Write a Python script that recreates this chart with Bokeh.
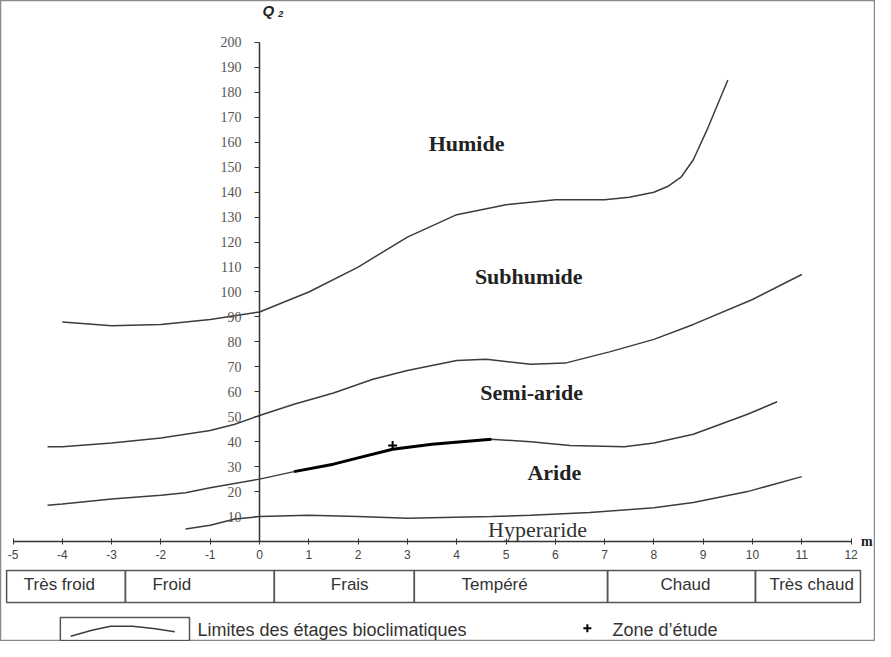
from bokeh.plotting import figure
from bokeh.models import Range1d, FixedTicker
from bokeh.core.properties import value
from bokeh.embed import file_html
from bokeh.resources import INLINE

# ---- data ----
x_ticks = list(range(-5, 13))
x_tick_labels = [str(t) for t in x_ticks]
q_ticks = list(range(10, 201, 10))

# limit Humide / Subhumide
humide_x = [-4.0, -3.0, -2.0, -1.0, 0.0, 1.0, 2.0, 3.0, 4.0, 5.0, 6.0, 7.0, 7.5, 8.0, 8.3, 8.55, 8.8, 9.1, 9.5]
humide_q = [88, 86.5, 87, 89, 92, 100, 110, 122, 131, 135, 137, 137, 138, 140, 142.5, 146, 153, 166, 185]

# limit Subhumide / Semi-aride
subhum_x = [-4.3, -4.0, -3.0, -2.0, -1.0, -0.5, 0.0, 0.7, 1.5, 2.3, 3.0, 4.0, 4.6, 5.5, 6.2, 7.1, 8.0, 8.8, 10.0, 11.0]
subhum_q = [38, 38, 39.5, 41.5, 44.5, 47, 50.5, 55, 59.5, 65, 68.5, 72.5, 73, 71, 71.5, 76, 81, 87, 97, 107]

# limit Semi-aride / Aride
semiar_x = [-4.3, -4.0, -3.0, -2.0, -1.5, -1.0, 0.0, 0.7, 1.5, 2.0, 2.7, 3.5, 4.7, 5.5, 6.3, 7.4, 8.0, 8.8, 9.9, 10.5]
semiar_q = [14.5, 15, 17, 18.5, 19.5, 21.5, 25, 28, 31, 33.5, 37, 39, 41, 40, 38.5, 38, 39.5, 43, 51, 56]

# limit Aride / Hyperaride
aride_x = [-1.5, -1.0, -0.5, 0.0, 1.0, 2.0, 3.0, 4.7, 5.5, 6.7, 8.0, 8.8, 9.9, 11.0]
aride_q = [5, 6.5, 9, 10, 10.5, 10, 9.3, 10, 10.5, 11.6, 13.5, 15.6, 20, 26]

# study zone
study_x = [2.7]
study_q = [38.5]

# region labels
region_names = ["Humide", "Subhumide", "Semi-aride", "Aride"]
region_x = [4.2, 5.46, 5.52, 5.98]
region_q = [159.5, 106.2, 59.7, 27.7]

# temperature classes (m)
zone_names = ["Très froid", "Froid", "Frais", "Tempéré", "Chaud", "Très chaud"]
zone_edges = [-5.13, -2.72, 0.30, 3.14, 7.06, 10.06, 12.19]
zone_label_x = [-4.06, -1.78, 1.83, 4.77, 8.64, 11.2]

# legend sample curve
legend_x = [-3.83, -3.4, -3.02, -2.58, -2.15, -1.72]
legend_q = [-38.0, -35.6, -34.0, -34.0, -34.9, -36.2]

# ---- figure ----
p = figure(width=875, height=641,
           x_range=Range1d(-5.254, 12.495), y_range=Range1d(-40.08, 216.83),
           output_backend="svg", toolbar_location=None, min_border=0)
p.grid.visible = False
p.background_fill_color = "white"
p.border_fill_color = "white"
p.outline_line_color = "#8a8a8a"
p.outline_line_width = 1.5

xa = p.xaxis[0]
xa.fixed_location = 0
xa.bounds = (-5, 12)
xa.ticker = FixedTicker(ticks=x_ticks)
xa.major_label_overrides = {t: s for t, s in zip(x_ticks, x_tick_labels)}
xa.axis_line_color = "#333333"
xa.axis_line_width = 1.5
xa.major_tick_line_color = "#333333"
xa.major_tick_in = 3
xa.major_tick_out = 3
xa.minor_tick_line_color = None
xa.major_label_standoff = 6
xa.major_label_text_font = "Liberation Sans"
xa.major_label_text_font_size = "12px"
xa.major_label_text_color = "#444444"

ya = p.yaxis[0]
ya.fixed_location = 0
ya.bounds = (0, 200)
ya.ticker = FixedTicker(ticks=q_ticks)
ya.axis_line_color = "#333333"
ya.axis_line_width = 1.5
ya.major_tick_line_color = "#333333"
ya.major_tick_in = 0
ya.major_tick_out = 5
ya.minor_tick_line_color = None
ya.major_label_standoff = 13
ya.major_label_text_font = "Liberation Serif"
ya.major_label_text_font_size = "14px"
ya.major_label_text_color = "#555555"

curve_color = "#3c3c3c"
for cx, cq in [(humide_x, humide_q), (subhum_x, subhum_q), (semiar_x, semiar_q), (aride_x, aride_q)]:
    p.line(cx, cq, line_color=curve_color, line_width=1.5)

# bold part of the Semi-aride/Aride limit around the study zone
bold_idx = [i for i, v in enumerate(semiar_x) if 0.7 <= v <= 4.7]
p.line([semiar_x[i] for i in bold_idx], [semiar_q[i] for i in bold_idx],
       line_color="black", line_width=3)

p.scatter(study_x, study_q, marker="cross", size=9, line_color="black", line_width=2)

p.text(region_x, region_q, text=region_names, text_font=value("Liberation Serif"),
       text_font_style="bold", text_font_size="22px", text_color="#222222",
       text_align="center", text_baseline="middle")
p.text([5.64], [4.8], text=["Hyperaride"], text_font=value("Liberation Serif"),
       text_font_size="22px", text_color="#333333",
       text_align="center", text_baseline="middle")

# axis names
p.text([0.18], [212.8], text=["Q"], text_font=value("Liberation Sans"),
       text_font_style="bold italic", text_font_size="15px", text_color="#222222",
       text_align="center", text_baseline="middle")
p.text([0.43], [211.3], text=["2"], text_font=value("Liberation Sans"),
       text_font_style="bold italic", text_font_size="9px", text_color="#222222",
       text_align="center", text_baseline="middle")
p.text([12.2], [0], text=["m"], text_font=value("Liberation Serif"),
       text_font_style="bold", text_font_size="14px", text_color="#222222",
       text_align="left", text_baseline="middle")

# temperature class table
p.quad(left=zone_edges[:-1], right=zone_edges[1:], top=-11.6, bottom=-24.4,
       fill_color=None, line_color="#555555", line_width=1.5)
p.text(zone_label_x, [-17.2] * len(zone_names), text=zone_names,
       text_font=value("Liberation Sans"), text_font_size="17px", text_color="#333333",
       text_align="center", text_baseline="middle")

# legend
p.quad(left=[-4.04], right=[-1.42], top=[-30.5], bottom=[-39.8],
       fill_color=None, line_color="#555555", line_width=1.5)
p.line(legend_x, legend_q, line_color=curve_color, line_width=1.5)
p.text([-1.26], [-35.3], text=["Limites des étages bioclimatiques"],
       text_font=value("Liberation Sans"), text_font_size="18px", text_color="#333333",
       text_align="left", text_baseline="middle")
p.scatter([6.65], [-34.8], marker="cross", size=8, line_color="black", line_width=2)
p.text([7.16], [-35.3], text=["Zone d’étude"],
       text_font=value("Liberation Sans"), text_font_size="18px", text_color="#333333",
       text_align="left", text_baseline="middle")

open("out.html", "w").write(file_html(p, INLINE))
